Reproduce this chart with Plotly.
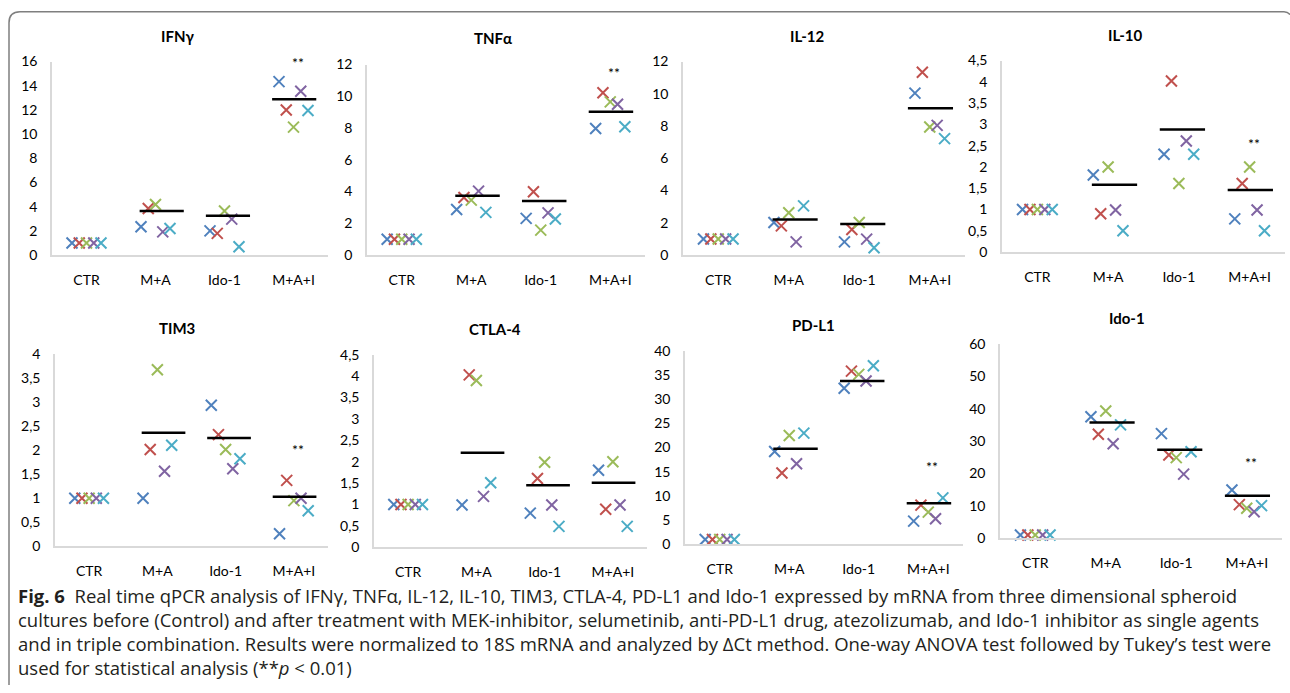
import plotly.graph_objects as go

# ---------------- data ----------------
categories = ["CTR", "M+A", "Ido-1", "M+A+I"]
replicates = ["R1", "R2", "R3", "R4", "R5"]
rep_colors = ["#4F81BD", "#C0504D", "#9BBB59", "#8064A2", "#4BACC6"]

panel_titles = ["IFNγ", "TNFα", "IL-12", "IL-10", "TIM3", "CTLA-4", "PD-L1", "Ido-1"]

# values[category][replicate]
ifng_vals = [[1, 1, 1, 1, 1], [2.34, 3.85, 4.18, 1.92, 2.2], [2.0, 1.79, 3.65, 2.97, 0.69], [14.34, 12.0, 10.58, 13.54, 11.95]]
tnfa_vals = [[1, 1, 1, 1, 1], [2.87, 3.63, 3.46, 4.03, 2.69], [2.31, 3.99, 1.57, 2.66, 2.27], [7.97, 10.22, 9.65, 9.5, 8.08]]
il12_vals = [[1, 1, 1, 1, 1], [2.02, 1.81, 2.62, 0.82, 3.05], [0.82, 1.59, 2.02, 0.99, 0.45], [10.04, 11.34, 7.94, 8.04, 7.22]]
il10_vals = [[1, 1, 1, 1, 1], [1.81, 0.9, 2.0, 0.99, 0.5], [2.3, 4.02, 1.61, 2.61, 2.3], [0.78, 1.61, 2.0, 0.99, 0.5]]
tim3_vals = [[1, 1, 1, 1, 1], [1.0, 2.01, 3.67, 1.56, 2.1], [2.93, 2.32, 2.01, 1.61, 1.82], [0.26, 1.37, 0.95, 1.0, 0.74]]
ctla4_vals = [[1, 1, 1, 1, 1], [0.99, 4.03, 3.9, 1.19, 1.51], [0.8, 1.61, 1.99, 0.99, 0.49], [1.8, 0.89, 2.0, 0.99, 0.49]]
pdl1_vals = [[1, 1, 1, 1, 1], [19.2, 14.75, 22.5, 16.67, 22.98], [32.25, 35.8, 35.13, 33.76, 36.9], [4.8, 8.1, 6.66, 5.28, 9.6]]
ido1_vals = [[1, 1, 1, 1, 1], [37.5, 32.1, 39.3, 29.2, 35.0], [32.3, 25.7, 24.9, 19.8, 26.7], [14.9, 10.4, 9.3, 8.2, 10.1]]

# group mean bars (None = no bar)
ifng_mean = [None, 3.65, 3.24, 12.88]
tnfa_mean = [None, 3.73, 3.40, 9.02]
il12_mean = [None, 2.21, 1.92, 9.11]
il10_mean = [None, 1.58, 2.88, 1.46]
tim3_mean = [None, 2.36, 2.25, 1.03]
ctla4_mean = [None, 2.21, 1.45, 1.51]
pdl1_mean = [None, 19.76, 33.76, 8.5]
ido1_mean = [None, 35.7, 27.3, 13.1]

# "**" significance marker height on M+A+I (None = not significant)
sig_y = [15.9, 11.5, 12.2, 2.54, 2.01, None, 16.1, 23.4]

y_max = [16, 12, 12, 4.5, 4, 4.5, 40, 60]
y_dtick = [2, 2, 2, 0.5, 0.5, 0.5, 5, 10]

all_vals = [ifng_vals, tnfa_vals, il12_vals, il10_vals, tim3_vals, ctla4_vals, pdl1_vals, ido1_vals]
all_means = [ifng_mean, tnfa_mean, il12_mean, il10_mean, tim3_mean, ctla4_mean, pdl1_mean, ido1_mean]

caption_lines = [
    "<b>Fig. 6</b>  Real time qPCR analysis of IFNγ, TNFα, IL-12, IL-10, TIM3, CTLA-4, PD-L1 and Ido-1 expressed by mRNA from three dimensional spheroid",
    "cultures before (Control) and after treatment with MEK-inhibitor, selumetinib, anti-PD-L1 drug, atezolizumab, and Ido-1 inhibitor as single agents",
    "and in triple combination. Results were normalized to 18S mRNA and analyzed by ΔCt method. One-way ANOVA test followed by Tukey’s test were",
    "used for statistical analysis (**<i>p</i> < 0.01)",
]

# ---------------- layout geometry (pixels of the target picture) ----------------
W, H = 1290, 693
# the photographed page comes out slightly squeezed vertically; compensate
Y_SCALE, Y_OFF = 0.978, 8.3

# left, right, top, bottom of each plot area
boxes = [
    (52, 328, 61, 255), (367, 645, 64, 255), (683, 965, 61, 255), (1002, 1285, 60, 252),
    (55, 328, 354, 547), (374, 647, 355, 548), (685, 963, 351, 545), (1000, 1282, 344, 539),
]
title_pos = [(177, 35), (493, 37), (807, 35), (1125, 34), (177, 328), (495, 329), (813, 325), (1127, 318)]

def px(x):
    return min(max(x / W, 0), 1)

def py(y):
    yy = (y - Y_OFF) / Y_SCALE
    return min(max(1 - yy / H, 0), 1)

rep_offset = [(i - 2) * 0.105 for i in range(5)]
mean_shift = [0.0, 0.09, 0.05, 0.01]
mean_half = 0.32

FONT_FAM = "Lato, Carlito, sans-serif"
TICK_FONT = dict(family=FONT_FAM, size=14, color="#000000")
AXIS_COLOR = "#d9d9d9"

fig = go.Figure()
layout = dict(
    width=W, height=H, margin=dict(l=0, r=0, t=0, b=0),
    paper_bgcolor="white", plot_bgcolor="white", showlegend=False,
    separators=",.",
)
annotations = []

for p in range(8):
    xa = "x" if p == 0 else f"x{p+1}"
    ya = "y" if p == 0 else f"y{p+1}"
    vals = all_vals[p]
    for r in range(5):
        fig.add_trace(go.Scatter(
            x=[c + rep_offset[r] for c in range(4)],
            y=[vals[c][r] for c in range(4)],
            mode="markers", name=replicates[r], xaxis=xa, yaxis=ya,
            marker=dict(symbol="x-thin", size=11, line=dict(color=rep_colors[r], width=2)),
            cliponaxis=False,
        ))
    mx, my = [], []
    for c in range(4):
        m = all_means[p][c]
        if m is None:
            continue
        mx += [c + mean_shift[c] - mean_half, c + mean_shift[c] + mean_half, None]
        my += [m, m, None]
    fig.add_trace(go.Scatter(x=mx, y=my, mode="lines", xaxis=xa, yaxis=ya,
                             line=dict(color="#000000", width=2.5), cliponaxis=False))

    l, rr, t, b = boxes[p]
    kx = "xaxis" if p == 0 else f"xaxis{p+1}"
    ky = "yaxis" if p == 0 else f"yaxis{p+1}"
    layout[kx] = dict(
        domain=[px(l), px(rr)], anchor=ya, range=[-0.5, 3.5],
        tickvals=list(range(4)), ticktext=categories, showgrid=False, zeroline=False,
        showline=True, linecolor=AXIS_COLOR, linewidth=1.5, ticks="",
        tickfont=TICK_FONT, ticklabelstandoff=11, fixedrange=True,
    )
    layout[ky] = dict(
        domain=[py(b), py(t)], anchor=xa, range=[0, y_max[p]], dtick=y_dtick[p],
        showgrid=False, zeroline=False, showline=True, linecolor=AXIS_COLOR, linewidth=1.5,
        ticks="", tickfont=TICK_FONT, ticklabelstandoff=10, fixedrange=True,
    )
    tx, ty = title_pos[p]
    annotations.append(dict(
        x=px(tx), y=py(ty), xref="paper", yref="paper", text=f"<b>{panel_titles[p]}</b>",
        showarrow=False, font=dict(family=FONT_FAM, size=15, color="#000000"),
        xanchor="center", yanchor="middle",
    ))
    if sig_y[p] is not None:
        annotations.append(dict(
            x=3.06, y=sig_y[p], xref=xa, yref=ya, text="**", showarrow=False,
            font=dict(family=FONT_FAM, size=14, color="#000000"),
            xanchor="center", yanchor="middle",
        ))

# caption as one multi-line text block (lines centred at ~597, 620, 643, 666)
annotations.append(dict(
    x=px(16), y=py(632), xref="paper", yref="paper", text="<br>".join(caption_lines),
    showarrow=False, xanchor="left", yanchor="middle", align="left",
    font=dict(family="Open Sans, sans-serif", size=18.5, color="#231f20"),
))

layout["annotations"] = annotations

# rounded frame (left and top edges)
rad = 11
frame = (f"M {px(9)},{py(H + 10)} L {px(9)},{py(11 + rad)} "
         f"Q {px(9)},{py(11)} {px(9 + rad)},{py(11)} L {px(1284)},{py(11)} "
         f"Q {px(1288)},{py(11)} {px(1290)},{py(14)}")
layout["shapes"] = [dict(type="path", xref="paper", yref="paper", path=frame,
                         line=dict(color="#7f7f7f", width=1.5))]

fig.update_layout(**layout)
fig.write_html(
    "out.html",
    config={"displayModeBar": False},
    post_script=(
        "document.body.style.margin='0';"
        "document.body.style.overflow='hidden';"
        "document.documentElement.style.overflow='hidden';"
    ),
)
